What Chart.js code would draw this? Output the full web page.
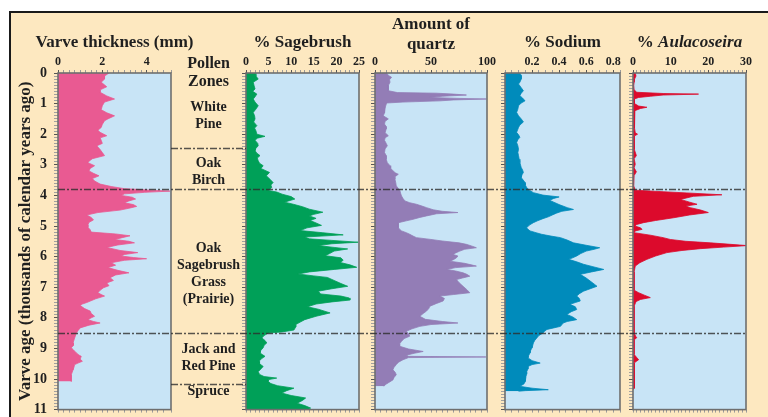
<!DOCTYPE html>
<html><head><meta charset="utf-8">
<script src="https://cdn.jsdelivr.net/npm/chart.js@4.4.1/dist/chart.umd.min.js"></script>
<style>
html,body{margin:0;padding:0;background:#fff;width:768px;height:417px;overflow:hidden;position:relative;}
#frame{position:absolute;left:9px;top:11px;width:820px;height:430px;border:2px solid #1a1a1a;background:#fde8c0;}
canvas{position:absolute;left:0;top:0;}
</style></head><body>
<div id="frame"></div>
<canvas id="c5" width="768" height="417"></canvas>
<canvas id="c4" width="768" height="417"></canvas>
<canvas id="c3" width="768" height="417"></canvas>
<canvas id="c2" width="768" height="417"></canvas>
<canvas id="c1" width="768" height="425"></canvas>
<script>
// ---------------- DATA ----------------
const ageTicks = [0,1,2,3,4,5,6,7,8,9,10,11];

const varveAge = [0,0.1,0.2,0.3,0.45,0.55,0.63,0.75,0.85,0.95,
 1.07,1.2,1.3,1.4,1.5,1.56,1.68,1.78,1.87,1.94,
 2.05,2.12,2.2,2.3,2.38,2.5,2.6,2.7,2.8,2.88,
 2.93,3.03,3.12,3.2,3.28,3.36,3.45,3.53,3.63,3.71,
 3.78,3.83,3.86,3.9,3.95,4.0,4.06,4.12,4.18,4.24,
 4.3,4.36,4.42,4.48,4.56,4.64,4.72,4.8,4.88,4.96,
 5.04,5.12,5.2,5.26,5.32,5.38,5.44,5.5,5.55,5.62,
 5.7,5.8,5.87,5.93,5.98,6.03,6.07,6.12,6.2,6.28,
 6.36,6.45,6.53,6.6,6.69,6.78,6.86,6.95,7.02,7.1,
 7.18,7.24,7.29,7.38,7.5,7.55,7.6,7.7,7.78,7.86,
 7.95,8.0,8.06,8.12,8.17,8.24,8.33,8.42,8.5,8.66,
 8.82,8.9,8.98,9.05,9.15,9.22,9.26,9.35,9.42,9.48,
 9.53,9.62,9.7,9.86,10.03,10.08];
const varveMm = [2.3,2.1,2.1,1.95,2.2,1.9,1.9,2.2,2.55,2.1,
 2.0,1.95,2.2,2.55,2.25,2.1,2.0,1.95,1.8,1.9,
 2.2,1.9,1.95,2.0,1.75,1.9,2.0,2.1,1.55,1.4,
 1.35,1.65,1.45,1.4,1.6,1.85,1.55,1.65,1.9,2.4,
 3.0,4.2,5.05,3.9,3.0,2.85,3.35,3.5,3.2,3.0,
 3.4,3.55,3.2,2.8,1.8,1.3,1.5,1.6,1.4,1.35,
 1.35,1.45,1.5,2.6,3.25,2.9,2.55,3.2,3.45,2.7,
 2.2,2.8,3.6,3.0,2.85,3.4,4.0,3.0,2.4,2.6,
 2.25,2.7,3.2,2.6,2.35,2.5,2.2,2.3,2.05,1.9,
 1.8,1.95,2.1,1.7,1.3,1.1,1.0,1.2,1.45,1.5,
 1.65,1.5,1.35,1.6,1.9,1.4,1.0,0.9,0.83,0.75,
 0.68,0.7,0.6,0.7,0.83,0.95,1.05,1.0,1.1,0.9,
 0.75,0.72,0.68,0.6,0.6,0.6];

const sageAge = [0,0.1,0.2,0.3,0.42,0.52,0.6,0.69,0.78,0.85,
 0.95,1.07,1.18,1.29,1.4,1.5,1.6,1.72,1.8,1.89,
 2.0,2.07,2.13,2.2,2.3,2.38,2.46,2.54,2.62,2.7,
 2.78,2.87,2.95,3.03,3.12,3.25,3.36,3.47,3.58,3.66,
 3.74,3.84,3.89,3.96,4.04,4.12,4.22,4.29,4.37,4.45,
 4.55,4.62,4.67,4.75,4.82,4.9,4.98,5.06,5.15,5.22,
 5.29,5.36,5.42,5.47,5.53,5.58,5.64,5.7,5.75,5.82,
 5.9,5.97,6.04,6.12,6.19,6.27,6.35,6.42,6.5,6.57,
 6.63,6.68,6.78,6.88,6.97,7.05,7.13,7.22,7.29,7.35,
 7.42,7.48,7.55,7.64,7.72,7.84,7.95,8.06,8.14,8.22,
 8.3,8.4,8.46,8.5,8.58,8.66,8.74,8.82,8.9,8.98,
 9.06,9.15,9.2,9.26,9.34,9.42,9.5,9.59,9.67,9.76,
 9.85,9.92,9.97,10.02,10.08,10.15,10.22,10.3,10.38,10.46,
 10.54,10.62,10.7,10.79,10.87,10.95,11.0];
const sagePct = [2.0,2.2,2.7,1.6,1.8,2.0,1.5,2.4,2.0,1.6,
 2.0,2.7,2.2,1.6,1.9,2.0,1.7,2.4,1.9,2.2,
 2.4,4.2,2.5,2.0,2.6,2.7,2.2,2.0,2.4,3.1,
 2.5,2.7,3.0,3.8,3.3,5.2,4.5,5.3,6.0,5.5,
 5.7,5.0,6.8,8.0,10.0,10.8,8.5,10.5,12.5,14.0,
 17.0,15.0,14.0,15.5,14.2,15.5,16.7,13.5,12.0,17.0,
 21.5,13.0,14.0,19.0,24.8,19.0,16.0,19.5,22.5,19.5,
 18.5,17.5,21.0,21.5,20.8,23.0,24.5,19.5,14.0,11.5,
 15.0,18.0,19.5,21.0,22.5,19.0,16.0,16.5,21.0,22.8,
 23.0,19.0,15.5,13.6,16.0,18.6,15.5,13.0,12.0,11.0,
 11.0,10.6,8.0,4.9,4.0,3.5,4.2,4.6,4.0,3.8,
 3.3,3.1,3.6,4.2,3.4,2.9,3.0,3.8,3.3,2.7,
 3.0,4.0,6.8,5.0,4.9,5.5,7.0,10.6,9.0,7.9,
 10.0,13.2,12.5,11.3,13.0,14.3,13.8];

const quartzAge = [0,0.08,0.14,0.22,0.3,0.4,0.47,0.58,0.64,0.66,
 0.69,0.72,0.76,0.8,0.83,0.85,0.88,0.91,0.95,0.98,
 1.08,1.18,1.3,1.4,1.5,1.58,1.67,1.75,1.83,1.95,
 2.05,2.12,2.2,2.3,2.38,2.48,2.6,2.7,2.82,2.93,
 3.03,3.12,3.2,3.26,3.31,3.4,3.47,3.58,3.69,3.78,
 3.85,3.95,4.02,4.1,4.18,4.24,4.29,4.35,4.4,4.47,
 4.52,4.56,4.6,4.67,4.72,4.78,4.83,4.89,4.97,5.06,
 5.11,5.16,5.22,5.27,5.33,5.38,5.44,5.49,5.55,5.6,
 5.65,5.71,5.76,5.82,5.88,5.93,5.98,6.04,6.1,6.15,
 6.22,6.27,6.31,6.36,6.42,6.47,6.53,6.58,6.64,6.7,
 6.75,6.85,6.97,7.08,7.18,7.24,7.29,7.37,7.45,7.53,
 7.62,7.7,7.78,7.86,7.95,8.05,8.12,8.17,8.22,8.28,
 8.36,8.44,8.52,8.6,8.68,8.77,8.85,8.93,9.02,9.1,
 9.16,9.22,9.26,9.28,9.3,9.37,9.45,9.53,9.62,9.7,
 9.78,9.86,9.95,10.03,10.12,10.19,10.24];
const quartzAmt = [10.4,12,14.8,13,13.4,12,11.9,12,20,55,
 70,81.6,60,49,75,99.4,70,58,25,10.4,
 9.5,8.9,8.5,7.4,11.9,9,8.5,10,10,9,
 11.9,9,8.5,10,11,9,8.5,10,10,11,
 13.4,14,16.3,18,20.8,17.5,17.8,18.5,19,21,
 22.3,23,23.7,25,26.7,31,37,42,46,52,
 60,74,55,46,40,34,28,21,21,20.8,
 22,23.7,28,31,34,37,50,60,75,81.6,
 86,90.5,80,75.7,72,69.7,74,72.7,70,66.8,
 80,86,90.5,72,64,72,78.6,82,84.6,78,
 72.7,75,78.6,82,84.6,70,58,62,60.8,55,
 49,48,46,43,40,45,60,74,50,40,
 33,28,30,31,26,23.7,22,22,30,43,
 35,28,30,99,30,25,21,19,17,16,
 18,19,17,16,12,9,8];

const sodiumAge = [0,0.08,0.2,0.3,0.36,0.48,0.58,0.66,0.74,0.82,
 0.91,0.98,1.07,1.18,1.29,1.4,1.5,1.6,1.7,1.78,
 1.94,2.02,2.1,2.18,2.27,2.38,2.49,2.6,2.7,2.82,
 2.93,3.01,3.09,3.17,3.25,3.33,3.42,3.5,3.58,3.66,
 3.74,3.83,3.91,3.99,4.05,4.1,4.16,4.22,4.3,4.4,
 4.46,4.52,4.58,4.64,4.7,4.76,4.83,4.89,4.97,5.06,
 5.11,5.16,5.22,5.27,5.33,5.38,5.46,5.55,5.63,5.71,
 5.76,5.82,5.9,5.98,6.04,6.09,6.17,6.25,6.33,6.42,
 6.5,6.58,6.7,6.8,6.9,6.97,7.05,7.13,7.21,7.29,
 7.37,7.45,7.5,7.56,7.64,7.73,7.8,7.89,7.97,8.06,
 8.12,8.17,8.28,8.33,8.38,8.45,8.5,8.58,8.66,8.74,
 8.82,8.9,8.98,9.06,9.15,9.23,9.31,9.4,9.48,9.53,
 9.59,9.67,9.76,9.84,9.92,10.0,10.08,10.16,10.24,10.3,
 10.35,10.38,10.4];
const sodiumPct = [0.11,0.12,0.12,0.11,0.1,0.12,0.136,0.12,0.11,0.13,
 0.148,0.12,0.1,0.095,0.086,0.1,0.12,0.136,0.11,0.1,
 0.086,0.1,0.11,0.095,0.086,0.095,0.1,0.095,0.1,0.105,
 0.11,0.115,0.12,0.13,0.136,0.125,0.12,0.135,0.148,0.15,
 0.16,0.18,0.21,0.28,0.4,0.36,0.33,0.36,0.4,0.46,
 0.506,0.42,0.38,0.35,0.32,0.28,0.24,0.21,0.18,0.16,
 0.17,0.185,0.23,0.27,0.34,0.41,0.46,0.506,0.6,0.7,
 0.66,0.6,0.56,0.53,0.5,0.47,0.53,0.58,0.65,0.73,
 0.64,0.556,0.6,0.63,0.66,0.68,0.63,0.58,0.55,0.53,
 0.55,0.556,0.52,0.48,0.52,0.53,0.49,0.457,0.5,0.53,
 0.46,0.43,0.41,0.36,0.31,0.29,0.28,0.25,0.235,0.22,
 0.21,0.205,0.2,0.19,0.185,0.175,0.17,0.2,0.26,0.2,
 0.17,0.17,0.16,0.16,0.155,0.15,0.15,0.14,0.11,0.2,
 0.32,0.15,0.1];

const aulaAge = [0,0.1,0.2,0.3,0.41,0.55,0.63,0.67,0.69,0.72,
 0.76,0.8,0.85,1.0,1.08,1.12,1.16,1.23,1.4,1.6,
 1.8,1.95,2.0,2.06,2.3,2.5,2.7,2.8,2.98,3.1,
 3.23,3.35,3.69,3.83,3.88,3.92,3.98,4.03,4.13,4.22,
 4.29,4.35,4.4,4.48,4.56,4.64,4.73,4.82,4.89,4.95,
 5.0,5.06,5.11,5.16,5.22,5.3,5.38,5.44,5.5,5.55,
 5.6,5.64,5.69,5.74,5.8,5.87,5.98,6.09,6.2,6.31,
 6.5,6.8,7.1,7.18,7.26,7.34,7.4,7.47,7.62,8.2,
 8.5,8.6,8.65,8.72,9.2,9.3,9.37,9.43,9.48,10.0,
 10.2,10.3,10.35];
const aulaPct = [0.6,0.8,0.4,0.3,0.2,0.3,1.0,8,17.4,8,
 4.6,1.5,0.3,0.4,1.5,3.7,2,0.5,0.4,0.4,
 0.4,0.6,1.2,0.3,0.3,0.4,0.9,0.3,0.6,0.3,
 0.9,0.3,0.2,0.6,8,14.3,23.6,16,12.6,15,
 17,14,15.2,18,20,15,10.8,6,2.8,1,
 0.5,2.0,2.4,0.6,0.3,4.6,8,9.9,14,20.5,
 26,30.3,24,17.9,13,9,6,3.7,1.8,0.6,
 0.3,0.3,0.3,1.5,3.0,4.6,2,0.8,0.3,0.3,
 0.3,0.7,1.0,0.3,0.3,1.0,1.5,0.8,0.3,0.3,
 0.5,0.3,0];

// tick labels shown on each top axis
const varveTicks = [0,2,4];
const sageTicks = [0,5,10,15,20,25];
const quartzTicks = [0,50,100];
const sodiumTicks = [0.2,0.4,0.6,0.8];
const aulaTicks = [0,10,20,30];

// pollen zones
const zoneBreaks = [2.45, 3.8, 8.5, 10.15];
const zoneNames = [['White','Pine'],['Oak','Birch'],['Oak','Sagebrush','Grass','(Prairie)'],['Jack and','Red Pine'],['Spruce']];

// ---------------- LAYOUT / STYLE ----------------
const W = 768;
const FONT = "'Liberation Serif', 'Times New Roman', serif";
const INK = '#1f1f1f';
const PLOT_BG = '#c8e4f6';
const BOX = [ {l:58,r:171}, {l:246,r:359}, {l:375,r:487}, {l:505,r:620}, {l:633,r:746} ];
const TOP_H = 73, BOTTOM_PAD = 3.4, BOTTOM_AXIS = 4;
const zoneFullSpan = [false, true, true, false];
const zoneNudge = [5, 3, 13, 0, -5];

const near = (list, v) => list.some(t => Math.abs(t - v) < 1e-6);
const isInt = v => Math.abs(v - Math.round(v)) < 1e-6;

const boxPlugin = {
  id: 'boxPlugin',
  beforeDraw(chart) {
    const a = chart.chartArea, ctx = chart.ctx;
    ctx.save(); ctx.fillStyle = PLOT_BG; ctx.fillRect(a.left, a.top, a.right - a.left, a.bottom - a.top); ctx.restore();
  },
  afterDatasetsDraw(chart) {
    const a = chart.chartArea, ctx = chart.ctx;
    ctx.save(); ctx.strokeStyle = '#6e6e6e'; ctx.lineWidth = 1.6;
    ctx.strokeRect(a.left, a.top, a.right - a.left, a.bottom - a.top); ctx.restore();
  }
};

// title drawn by hand (mixed styles / wider than its axis)
function titlePlugin(parts) {
  return {
    id: 'titleDraw',
    afterDraw(chart) {
      const ctx = chart.ctx, s = chart.scales.x;
      const cx = (s.left + s.right) / 2, cy = 43;
      ctx.save();
      ctx.fillStyle = INK; ctx.textBaseline = 'middle'; ctx.textAlign = 'left';
      const widths = parts.map(p => { ctx.font = p.font; return ctx.measureText(p.text).width; });
      let x = cx - widths.reduce((a, b) => a + b, 0) / 2;
      parts.forEach((p, i) => { ctx.font = p.font; ctx.fillText(p.text, x, cy); x += widths[i]; });
      ctx.restore();
    }
  };
}

function makePanel(id, o) {
  const b = o.box;
  const yW = o.yLabels ? b.l : 6;
  const padL = o.yLabels ? 0 : b.l - 6;
  const tickFont = {family: FONT, size: 12, weight: 'bold'};
  const titleFont = {family: FONT, size: 17, weight: 'bold', lineHeight: 1.18};
  return new Chart(document.getElementById(id), {
    type: 'line',
    data: { datasets: [{
      data: o.ages.map((a, i) => ({x: o.values[i], y: a})),
      borderColor: o.color, backgroundColor: o.color, borderWidth: 0.8,
      pointRadius: 0, fill: 'origin', tension: 0, xAxisID: 'x', yAxisID: 'y'
    }]},
    options: {
      indexAxis: 'y', responsive: false, animation: false, devicePixelRatio: 1, events: [],
      layout: { padding: { left: padL, right: W - b.r, top: 0, bottom: BOTTOM_PAD } },
      plugins: { legend: {display: false}, tooltip: {enabled: false} },
      scales: {
        x: {
          type: 'linear', position: 'top', min: o.min, max: o.max,
          afterFit: s => { s.height = TOP_H; },
          border: {display: false},
          grid: { drawOnChartArea: false, tickLength: 3, color: 'rgba(0,0,0,0)',
                  tickColor: c => near(o.tickList, c.tick.value) ? '#555' : '#9a9a9a', tickWidth: 1 },
          ticks: { stepSize: o.step, autoSkip: false, maxRotation: 0, minRotation: 0, padding: 1,
                   font: tickFont, color: INK,
                   callback: v => near(o.tickList, v) ? o.fmt(v) : '' },
          title: { display: !!o.title, text: o.title || '', color: INK, font: titleFont,
                   padding: {top: o.titlePad, bottom: 0} }
        },
        x2: {
          type: 'linear', position: 'bottom', min: o.min, max: o.max,
          afterFit: s => { s.height = BOTTOM_AXIS; },
          border: {display: false},
          grid: { drawOnChartArea: false, tickLength: 3, color: 'rgba(0,0,0,0)', tickColor: '#9a9a9a' },
          ticks: { display: false, stepSize: o.step, autoSkip: false }
        },
        y: {
          type: 'linear', position: 'left', reverse: true, min: 0, max: 11,
          afterFit: s => { s.width = yW; },
          border: {display: false},
          grid: { drawOnChartArea: false, tickLength: 4, color: 'rgba(0,0,0,0)',
                  tickColor: c => isInt(c.tick.value) ? '#555' : '#a0a0a0' },
          ticks: { display: !!o.yLabels, stepSize: 0.1, autoSkip: false, padding: 7,
                   font: {family: FONT, size: 14, weight: 'bold'}, color: INK,
                   callback: v => near(ageTicks, v) ? String(Math.round(v)) : '' },
          title: { display: !!o.yLabels, text: 'Varve age (thousands of calendar years ago)', color: INK,
                   font: {family: FONT, size: 17, weight: 'bold'}, padding: {top: 15, bottom: 0} }
        }
      }
    },
    plugins: [boxPlugin].concat(o.plugins || [])
  });
}

// overlay: zone lines + zone labels (drawn on the top-most chart, positions from its age scale)
const zonePlugin = {
  id: 'zonePlugin',
  afterDraw(chart) {
    const ctx = chart.ctx, ys = chart.scales.y;
    const colMid = (BOX[0].r + BOX[1].l) / 2;
    ctx.save();
    ctx.strokeStyle = 'rgba(45,45,45,0.8)'; ctx.lineWidth = 1.5; ctx.setLineDash([7, 2, 2, 2]);
    zoneBreaks.forEach((age, i) => {
      const y = Math.round(ys.getPixelForValue(age)) + 0.5;
      const x0 = zoneFullSpan[i] ? BOX[0].l : BOX[0].r;
      const x1 = zoneFullSpan[i] ? BOX[4].r : BOX[1].l;
      ctx.beginPath(); ctx.moveTo(x0, y); ctx.lineTo(x1, y); ctx.stroke();
    });
    ctx.setLineDash([]);
    ctx.fillStyle = INK; ctx.textAlign = 'center'; ctx.textBaseline = 'middle';
    ctx.font = `bold 16px ${FONT}`;
    ctx.fillText('Pollen', colMid, 64);
    ctx.fillText('Zones', colMid, 82);
    ctx.font = `bold 14px ${FONT}`;
    const edges = [0].concat(zoneBreaks, [11]);
    zoneNames.forEach((lines, i) => {
      const mid = (ys.getPixelForValue(edges[i]) + ys.getPixelForValue(edges[i + 1])) / 2 + zoneNudge[i];
      const lh = 17;
      lines.forEach((t, k) => ctx.fillText(t, colMid, mid + (k - (lines.length - 1) / 2) * lh));
    });
    ctx.restore();
  }
};

const BOLD17 = `bold 17px ${FONT}`, ITAL17 = `italic bold 17px ${FONT}`;

makePanel('c5', {box: BOX[4], ages: aulaAge, values: aulaPct, color: '#dc0a2c', min: 0, max: 30, step: 1,
  tickList: aulaTicks, fmt: v => String(v), title: '', titlePad: 33,
  plugins: [titlePlugin([{text: '% ', font: BOLD17}, {text: 'Aulacoseira', font: ITAL17}])]});
makePanel('c4', {box: BOX[3], ages: sodiumAge, values: sodiumPct, color: '#008bbb', min: 0, max: 0.85, step: 0.05,
  tickList: sodiumTicks, fmt: v => v.toFixed(1), title: '% Sodium', titlePad: 33});
makePanel('c3', {box: BOX[2], ages: quartzAge, values: quartzAmt, color: '#937db6', min: 0, max: 100, step: 5,
  tickList: quartzTicks, fmt: v => String(v), title: ['Amount of', 'quartz'], titlePad: 15});
makePanel('c2', {box: BOX[1], ages: sageAge, values: sagePct, color: '#00a058', min: 0, max: 25, step: 1,
  tickList: sageTicks, fmt: v => String(v), title: '% Sagebrush', titlePad: 33});
makePanel('c1', {box: BOX[0], ages: varveAge, values: varveMm, color: '#e95a92', min: 0, max: 5.1, step: 0.25,
  tickList: varveTicks, fmt: v => String(v), title: '', titlePad: 33, yLabels: true,
  plugins: [titlePlugin([{text: 'Varve thickness (mm)', font: BOLD17}]), zonePlugin]});
</script>
</body></html>
